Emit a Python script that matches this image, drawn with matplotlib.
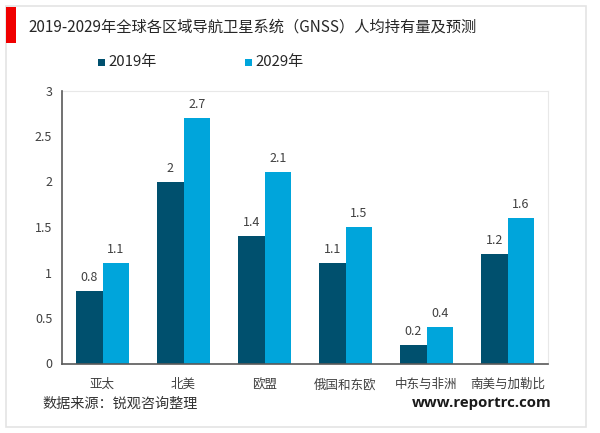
import matplotlib
matplotlib.use('Agg')
import matplotlib.pyplot as plt
from matplotlib.patches import Rectangle
import numpy as np

plt.rcParams['font.family'] = ['Noto Sans CJK SC', 'DejaVu Sans']

categories = ['亚太', '北美', '欧盟', '俄国和东欧', '中东与非洲', '南美与加勒比']
values_2019 = [0.8, 2, 1.4, 1.1, 0.2, 1.2]
values_2029 = [1.1, 2.7, 2.1, 1.5, 0.4, 1.6]
series_names = ['2019年', '2029年']
yticks = [0, 0.5, 1, 1.5, 2, 2.5, 3]
ytick_labels = ['0', '0.5', '1', '1.5', '2', '2.5', '3']
title = '2019-2029年全球各区域导航卫星系统（GNSS）人均持有量及预测'
source = '数据来源：锐观咨询整理'
website = 'www.reportrc.com'

W, H = 600, 433
C1, C2 = '#00506E', '#00A5DB'
fig = plt.figure(figsize=(W/100, H/100), dpi=100, facecolor='white')

def fx(x): return x/W
def fy(y): return 1-y/H

fig.add_artist(Rectangle((fx(6), fy(427)), 580/W, 421/H, transform=fig.transFigure,
                         fc='white', ec='#E4E4E4', lw=1.2, zorder=-5))
fig.add_artist(Rectangle((fx(6), fy(43)), 10/W, 36/H, transform=fig.transFigure,
                         fc='#F00000', ec='none', zorder=3))
fig.text(fx(28), fy(27), title, fontsize=11, color='#262626', va='center', ha='left')

ax = fig.add_axes([fx(62), fy(363.5), (548-62)/W, (363.5-90.5)/H])
ax.set_facecolor('none')
x = np.arange(len(categories))
w = 0.327
b1 = ax.bar(x-w/2, values_2019, w, color=C1)
b2 = ax.bar(x+w/2, values_2029, w, color=C2)
for bars, vals in ((b1, values_2019), (b2, values_2029)):
    for r, v in zip(bars, vals):
        ax.annotate(f'{v:g}', (r.get_x()+r.get_width()/2, v), xytext=(0, 5),
                    textcoords='offset points', ha='center', va='bottom',
                    fontsize=9, color='#404040')
ax.set_xlim(-0.5, 5.5)
ax.set_ylim(0, 3)
ax.set_yticks(yticks, ytick_labels)
ax.set_xticks(x, categories)
ax.tick_params(axis='both', length=0, labelsize=9, labelcolor='#404040')
ax.tick_params(axis='y', pad=7)
ax.tick_params(axis='x', pad=10.5)
for s in ('top', 'right'):
    ax.spines[s].set_visible(False)
for s in ('left', 'bottom'):
    ax.spines[s].set_color('#595959')
    ax.spines[s].set_linewidth(1.2)
ax.plot([0, 1], [1, 1], transform=ax.transAxes, color='#E8E8E8', lw=0.8, clip_on=False)
ax.plot([1, 1], [0, 1], transform=ax.transAxes, color='#E8E8E8', lw=0.8, clip_on=False)

for lx, c, name in ((98, C1, series_names[0]), (245, C2, series_names[1])):
    fig.add_artist(Rectangle((fx(lx), fy(66)), 7/W, 7/H, transform=fig.transFigure, fc=c, ec='none'))
    fig.text(fx(lx+10), fy(62), name, fontsize=10.8, color='#262626', va='center', ha='left')

fig.text(fx(42), fy(404), source, fontsize=10.2, color='#333333', va='center', ha='left')
fig.text(fx(412), fy(403), website, fontsize=10.85, color='#1A1A1A', va='center', ha='left',
         family='Open Sans', fontweight='bold')
fig.savefig('out.png', dpi=100)
